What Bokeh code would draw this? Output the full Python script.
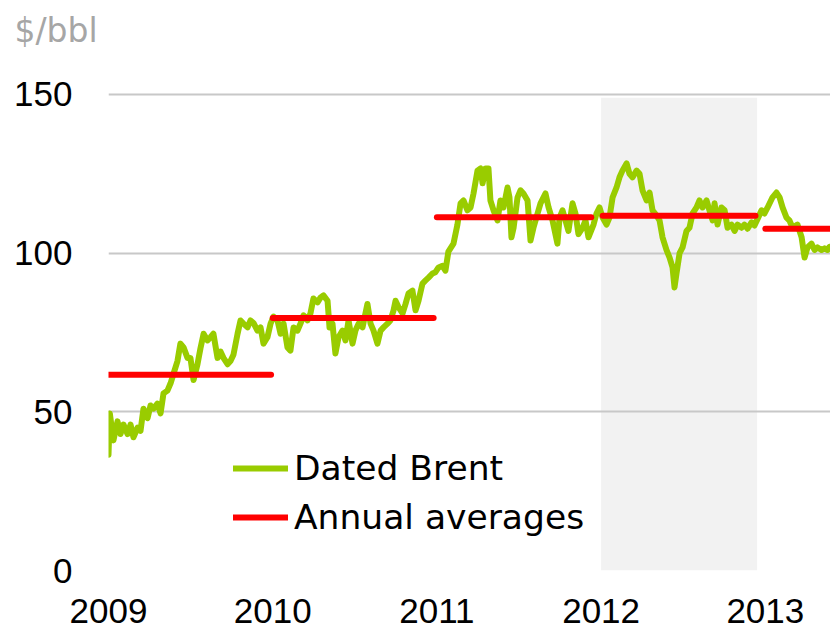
from bokeh.plotting import figure
from bokeh.models import (FixedTicker, NumeralTickFormatter, Legend,
                          LegendItem, ColumnDataSource)
from bokeh.embed import file_html
from bokeh.resources import INLINE

# ---- data (fractional year, $/bbl) ----
brent_t = [
    2009.000, 2009.008, 2009.030, 2009.055, 2009.073, 2009.091, 2009.116, 2009.134,
    2009.152, 2009.177, 2009.195, 2009.213, 2009.238, 2009.256, 2009.274, 2009.298,
    2009.317, 2009.335, 2009.359, 2009.378, 2009.396, 2009.420, 2009.438, 2009.457,
    2009.481, 2009.499, 2009.518, 2009.542, 2009.560, 2009.579, 2009.603, 2009.621,
    2009.639, 2009.664, 2009.682, 2009.700, 2009.725, 2009.743, 2009.761, 2009.786,
    2009.804, 2009.822, 2009.847, 2009.865, 2009.883, 2009.907, 2009.926, 2009.944,
    2009.968, 2009.987, 2010.005, 2010.029, 2010.048, 2010.066, 2010.090, 2010.108,
    2010.127, 2010.151, 2010.169, 2010.188, 2010.212, 2010.230, 2010.248, 2010.273,
    2010.291, 2010.309, 2010.334, 2010.346, 2010.364, 2010.382, 2010.401, 2010.425,
    2010.443, 2010.462, 2010.486, 2010.504, 2010.523, 2010.547, 2010.577, 2010.596,
    2010.614, 2010.638, 2010.657, 2010.675, 2010.699, 2010.717, 2010.736, 2010.748,
    2010.766, 2010.791, 2010.809, 2010.827, 2010.851, 2010.870, 2010.888, 2010.912,
    2010.931, 2010.949, 2010.973, 2010.991, 2011.010, 2011.034, 2011.052, 2011.070,
    2011.101, 2011.125, 2011.144, 2011.162, 2011.186, 2011.205, 2011.223, 2011.247,
    2011.266, 2011.278, 2011.296, 2011.314, 2011.326, 2011.345, 2011.369, 2011.387,
    2011.406, 2011.430, 2011.442, 2011.454, 2011.467, 2011.491, 2011.509, 2011.527,
    2011.552, 2011.570, 2011.588, 2011.613, 2011.631, 2011.661, 2011.680, 2011.704,
    2011.734, 2011.747, 2011.765, 2011.783, 2011.801, 2011.826, 2011.844, 2011.862,
    2011.887, 2011.905, 2011.923, 2011.954, 2011.972, 2011.990, 2012.009, 2012.033,
    2012.051, 2012.070, 2012.094, 2012.112, 2012.130, 2012.155, 2012.173, 2012.191,
    2012.216, 2012.234, 2012.252, 2012.277, 2012.295, 2012.313, 2012.337, 2012.356,
    2012.374, 2012.398, 2012.417, 2012.435, 2012.447, 2012.459, 2012.478, 2012.496,
    2012.520, 2012.538, 2012.557, 2012.581, 2012.599, 2012.618, 2012.642, 2012.660,
    2012.679, 2012.691, 2012.709, 2012.733, 2012.752, 2012.770, 2012.794, 2012.813,
    2012.831, 2012.855, 2012.873, 2012.892, 2012.916, 2012.934, 2012.953, 2012.977,
    2012.995, 2013.014, 2013.044, 2013.068, 2013.087, 2013.105, 2013.129, 2013.147,
    2013.166, 2013.196, 2013.221, 2013.239, 2013.257, 2013.281, 2013.300, 2013.318,
    2013.342, 2013.361, 2013.379, 2013.391,
]
brent_price = [
    36.5, 49.5, 41.0, 47.0, 43.0, 46.0, 43.0, 46.0,
    42.0, 45.0, 44.0, 51.0, 48.0, 52.0, 51.0, 52.6,
    49.5, 55.8, 56.7, 59.0, 62.0, 66.0, 71.5, 70.3,
    67.0, 67.0, 60.0, 65.0, 70.0, 74.6, 72.5, 73.5,
    74.6, 67.0, 69.0, 67.0, 65.0, 66.0, 68.0, 74.6,
    78.8, 77.8, 76.6, 78.8, 78.0, 75.6, 76.6, 71.5,
    73.5, 77.8, 80.0, 78.8, 74.6, 77.8, 70.3, 69.3,
    76.6, 75.6, 77.8, 80.4, 78.8, 81.0, 85.7, 84.5,
    86.0, 86.7, 85.0, 76.6, 77.8, 68.4, 73.5, 75.6,
    72.5, 78.8, 71.5, 75.6, 77.8, 76.6, 84.0, 77.8,
    75.6, 71.5, 75.6, 76.6, 77.8, 78.8, 82.0, 85.0,
    83.0, 81.0, 84.0, 87.3, 88.2, 82.0, 85.0, 90.4,
    91.4, 92.3, 93.6, 94.0, 95.5, 96.0, 94.5, 100.5,
    103.0, 109.0, 115.7, 116.6, 113.5, 114.4, 118.8, 126.0,
    126.7, 122.0, 126.7, 126.7, 116.6, 113.5, 110.3, 116.6,
    114.4, 120.7, 117.6, 105.0, 108.0, 117.6, 119.8, 118.8,
    116.6, 104.0, 108.0, 112.5, 115.7, 118.8, 114.4, 110.3,
    103.0, 111.2, 113.5, 110.3, 107.0, 115.7, 112.5, 106.0,
    108.0, 110.3, 105.0, 109.0, 112.5, 114.4, 111.2, 109.0,
    111.2, 117.6, 120.7, 123.9, 126.0, 128.3, 125.0, 123.9,
    126.0, 125.0, 119.8, 116.6, 119.1, 113.5, 111.9, 110.3,
    105.0, 101.0, 98.6, 95.5, 89.2, 93.6, 100.0, 101.8,
    107.0, 108.0, 112.5, 114.4, 116.6, 114.4, 116.6, 113.5,
    110.3, 115.7, 109.0, 114.4, 113.5, 108.0, 109.0, 107.0,
    109.0, 108.0, 109.0, 107.7, 109.7, 108.7, 110.8, 113.5,
    112.5, 114.4, 117.6, 119.1, 117.6, 114.4, 111.2, 110.3,
    108.0, 109.0, 105.0, 98.6, 101.8, 103.0, 101.0, 101.8,
    101.0, 101.5, 101.0, 102.0,
]

avg_start = [2009.0, 2010.0, 2011.0, 2012.01, 2013.0]
avg_end = [2009.99, 2010.98, 2011.94, 2012.94, 2013.45]
avg_value = [61.7, 79.6, 111.3, 111.8, 107.7]

shade_start = [2012.0]
shade_end = [2012.95]
shade_top = [149.0]

y_ticks = [0, 50, 100, 150]
x_ticks = [2009, 2010, 2011, 2012, 2013]

GREEN = "#99cc00"
RED = "#ff0000"
GRID = "#c8c8c8"
TICK_FONT = "Liberation Sans"
LEG_FONT = "DejaVu Sans"

p = figure(width=830, height=632, output_backend="svg", toolbar_location=None,
           x_range=(2009.0, 2013.397), y_range=(0, 162.6),
           min_border_left=108, min_border_right=0, min_border_top=54,
           min_border_bottom=62,
           title="$/bbl")
p.outline_line_color = None
p.background_fill_color = "white"
p.border_fill_color = "white"

p.title.align = "left"
p.title.offset = -94
p.title.text_font = LEG_FONT
p.title.text_font_size = "33px"
p.title.text_font_style = "normal"
p.title.text_color = "#a6a6a6"
p.title.vertical_align = "bottom"

# shaded period (drawn beneath the grid)
p.quad(left=shade_start, right=shade_end, bottom=[0], top=shade_top,
       fill_color="#f2f2f2", line_color=None, level="image")

src = ColumnDataSource(dict(t=brent_t, price=brent_price))
g = p.line("t", "price", source=src, line_color=GREEN, line_width=6,
           line_join="round", line_cap="round")

avg_src = ColumnDataSource(dict(x0=avg_start, x1=avg_end, y=avg_value))
r = p.segment(x0="x0", y0="y", x1="x1", y1="y", source=avg_src,
              line_color=RED, line_width=6, line_cap="round")

# axes
for ax in (p.xaxis[0], p.yaxis[0]):
    ax.axis_line_color = None
    ax.major_tick_line_color = None
    ax.minor_tick_line_color = None
    ax.major_label_text_font = TICK_FONT
    ax.major_label_text_font_size = "35px"
    ax.major_label_text_color = "black"

p.yaxis.ticker = FixedTicker(ticks=y_ticks)
p.yaxis.major_label_standoff = 30
p.xaxis.ticker = FixedTicker(ticks=x_ticks)
p.xaxis.formatter = NumeralTickFormatter(format="0")
p.xaxis.major_label_standoff = 22

p.xgrid.grid_line_color = None
p.ygrid.grid_line_color = GRID
p.ygrid.grid_line_width = 2

legend = Legend(items=[LegendItem(label="Dated Brent", renderers=[g]),
                       LegendItem(label="Annual averages", renderers=[r])],
                location=(125, 33), background_fill_alpha=0,
                border_line_color=None, padding=0, margin=0, spacing=9,
                glyph_width=55, glyph_height=40, label_height=40,
                label_standoff=6, label_text_font=LEG_FONT,
                label_text_font_size="34.5px", label_text_color="black")
p.add_layout(legend)

open("out.html", "w").write(file_html(p, INLINE))
